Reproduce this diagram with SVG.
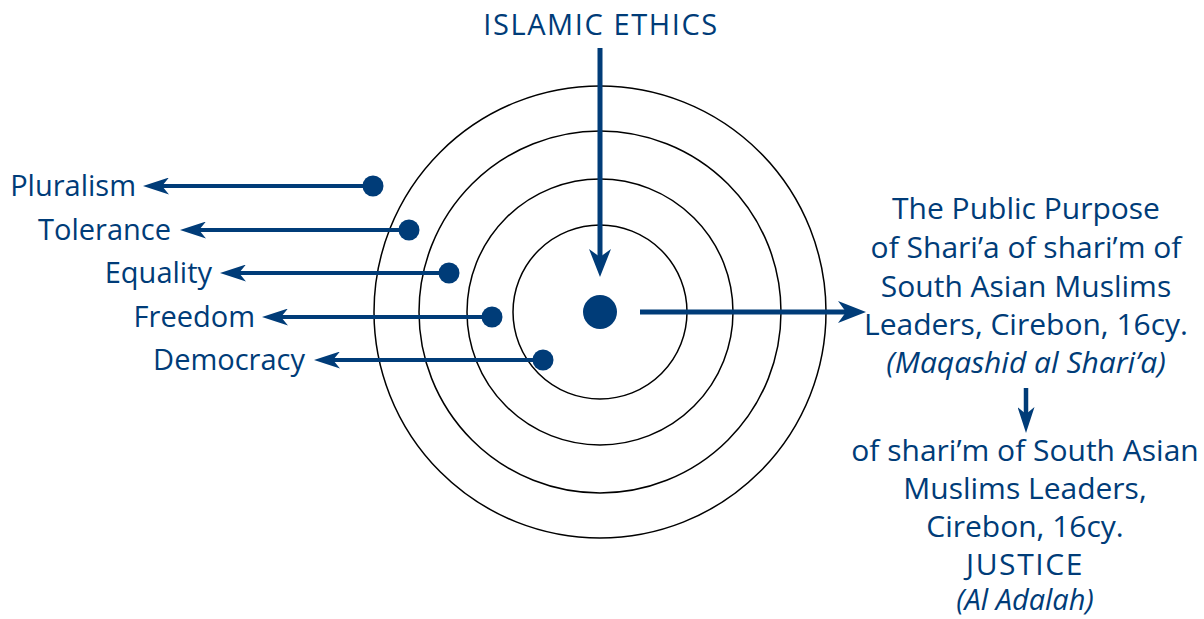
<svg xmlns="http://www.w3.org/2000/svg" width="1204" height="619" viewBox="0 0 1204 619">
<style>
text{font-family:"Open Sans","Noto Sans","DejaVu Sans",sans-serif;fill:#003c78;font-size:29px}
.m{text-anchor:middle}
.e{text-anchor:end}
.i{font-style:italic}
.r{font-size:30px}
.caps{letter-spacing:1.6px}
.ring{fill:none;stroke:#000;stroke-width:1.5}
.c{stroke:#003c78;fill:none}
.dot{fill:#003c78}
</style>
<defs>
<marker id="aL" viewBox="0 0 28 22" refX="8" refY="11" markerWidth="28" markerHeight="22" markerUnits="userSpaceOnUse" orient="auto"><path d="M0,0 L28,11 L0,22 L8,11 Z" fill="#003c78"/></marker>
<marker id="aS" viewBox="0 0 26 17" refX="7" refY="8.5" markerWidth="26" markerHeight="17" markerUnits="userSpaceOnUse" orient="auto"><path d="M0,0 L26,8.5 L0,17 L7,8.5 Z" fill="#003c78"/></marker>
</defs>
<rect width="1204" height="619" fill="#fff"/>
<g id="rings">
<circle class="ring" cx="600" cy="312" r="87"/>
<circle class="ring" cx="600" cy="312" r="133"/>
<circle class="ring" cx="600" cy="312" r="181"/>
<circle class="ring" cx="600" cy="312" r="226"/>
</g>
<g id="connectors">
<line class="c" x1="600" y1="48" x2="600" y2="257" stroke-width="5" marker-end="url(#aL)"/>
<line class="c" x1="640" y1="312" x2="846" y2="312" stroke-width="5" marker-end="url(#aL)"/>
<line class="c" x1="1026" y1="388" x2="1026" y2="414" stroke-width="4.5" marker-end="url(#aS)"/>
<line class="c" x1="373" y1="186" x2="162" y2="186" stroke-width="4" marker-end="url(#aS)"/>
<line class="c" x1="409" y1="230" x2="199" y2="230" stroke-width="4" marker-end="url(#aS)"/>
<line class="c" x1="449" y1="273" x2="239" y2="273" stroke-width="4" marker-end="url(#aS)"/>
<line class="c" x1="492" y1="317" x2="281" y2="317" stroke-width="4" marker-end="url(#aS)"/>
<line class="c" x1="543" y1="360" x2="333" y2="360" stroke-width="4" marker-end="url(#aS)"/>
</g>
<g id="center"><circle class="dot" cx="600" cy="312" r="17"/></g>
<g id="islamic-ethics"><text class="m caps" x="601" y="35">ISLAMIC ETHICS</text></g>
<g id="pluralism"><circle class="dot" cx="373" cy="186" r="10.5"/><text class="e" x="136" y="196">Pluralism</text></g>
<g id="tolerance"><circle class="dot" cx="409" cy="230" r="10.5"/><text class="e" x="171" y="240">Tolerance</text></g>
<g id="equality"><circle class="dot" cx="449" cy="273" r="10.5"/><text class="e" x="212" y="283">Equality</text></g>
<g id="freedom"><circle class="dot" cx="492" cy="317" r="10.5"/><text class="e" x="255" y="327">Freedom</text></g>
<g id="democracy"><circle class="dot" cx="543" cy="360" r="10.5"/><text class="e" x="305" y="370">Democracy</text></g>
<g id="public-purpose">
<text class="m r" x="1026" y="219">The Public Purpose</text>
<text class="m r" x="1026" y="258">of Shari’a of shari’m of</text>
<text class="m r" x="1026" y="297">South Asian Muslims</text>
<text class="m r" x="1026" y="335">Leaders, Cirebon, 16cy.</text>
<text class="m r i" x="1026" y="373">(Maqashid al Shari’a)</text>
</g>
<g id="justice">
<text class="m r" x="1025" y="461">of shari’m of South Asian</text>
<text class="m r" x="1025" y="499">Muslims Leaders,</text>
<text class="m r" x="1025" y="537">Cirebon, 16cy.</text>
<text class="m r caps" x="1025" y="575">JUSTICE</text>
<text class="m i" x="1025" y="610">(Al Adalah)</text>
</g>
</svg>
